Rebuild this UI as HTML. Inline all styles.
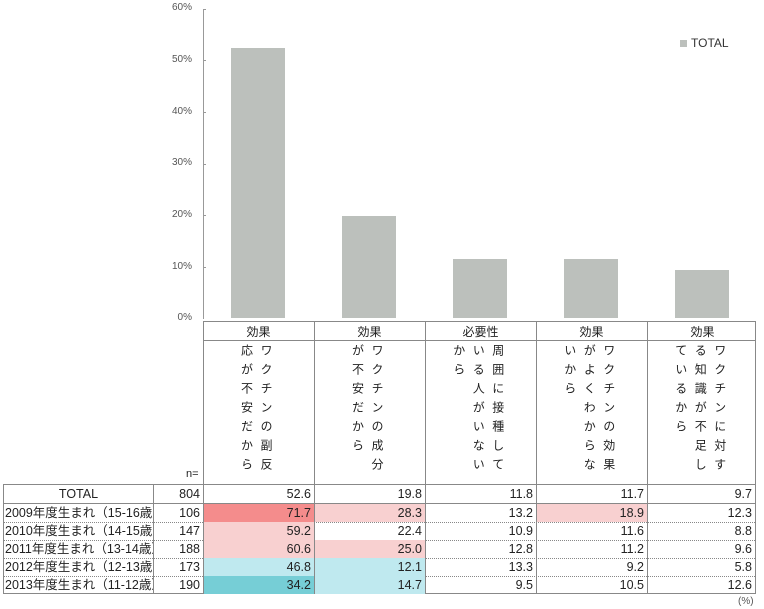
<!DOCTYPE html>
<html><head><meta charset="utf-8"><style>
body{margin:0;width:764px;height:609px;background:#fff;position:relative;overflow:hidden;font-family:"Liberation Sans","Noto Sans CJK JP",sans-serif;color:#222}
.a{position:absolute}
.yl{position:absolute;left:150px;width:42px;text-align:right;font-size:10px;color:#555}
.bar{position:absolute;background:#bcc0bc;width:54px}
.cell{position:absolute;box-sizing:border-box;font-size:12.5px;text-align:right;padding-right:3px;line-height:18px;height:18px}
.vt{position:absolute;top:344px;width:111px;text-align:center;font-size:12px}
.vt span{display:inline-block;writing-mode:vertical-rl;line-height:19.5px;letter-spacing:7px;text-align:left;vertical-align:top}
</style></head><body>
<div class="yl" style="top:2px">60%</div>
<div class="yl" style="top:54px">50%</div>
<div class="yl" style="top:106px">40%</div>
<div class="yl" style="top:157px">30%</div>
<div class="yl" style="top:209px">20%</div>
<div class="yl" style="top:261px">10%</div>
<div class="yl" style="top:312px">0%</div>
<div class="a" style="left:203px;top:9px;width:1px;height:310px;background:#999"></div>
<div class="a" style="left:203px;top:9px;width:3px;height:1px;background:#999"></div>
<div class="a" style="left:203px;top:60px;width:3px;height:1px;background:#999"></div>
<div class="a" style="left:203px;top:112px;width:3px;height:1px;background:#999"></div>
<div class="a" style="left:203px;top:164px;width:3px;height:1px;background:#999"></div>
<div class="a" style="left:203px;top:215px;width:3px;height:1px;background:#999"></div>
<div class="a" style="left:203px;top:267px;width:3px;height:1px;background:#999"></div>
<div class="bar" style="left:231px;top:48px;height:270px"></div>
<div class="bar" style="left:342px;top:216px;height:102px"></div>
<div class="bar" style="left:453px;top:259px;height:59px"></div>
<div class="bar" style="left:564px;top:259px;height:59px"></div>
<div class="bar" style="left:675px;top:270px;height:48px"></div>
<div class="a" style="left:680px;top:40px;width:7px;height:7px;background:#bcc0bc"></div>
<div class="a" style="left:691px;top:36px;font-size:12px;color:#333">TOTAL</div>

<!-- header area -->
<div class="a" style="left:203px;top:321px;width:553px;height:163px;border:1px solid #888;border-bottom:none;box-sizing:border-box"></div>
<div class="a" style="left:203px;top:340px;width:553px;height:1px;background:#888"></div>
<div class="a" style="left:314px;top:321px;width:1px;height:273px;background:#888"></div>
<div class="a" style="left:425px;top:321px;width:1px;height:273px;background:#888"></div>
<div class="a" style="left:536px;top:321px;width:1px;height:273px;background:#888"></div>
<div class="a" style="left:647px;top:321px;width:1px;height:273px;background:#888"></div>
<div class="a" style="left:203px;top:323px;width:111px;text-align:center;font-size:12px">効果</div>
<div class="a" style="left:314px;top:323px;width:111px;text-align:center;font-size:12px">効果</div>
<div class="a" style="left:425px;top:323px;width:111px;text-align:center;font-size:12px">必要性</div>
<div class="a" style="left:536px;top:323px;width:111px;text-align:center;font-size:12px">効果</div>
<div class="a" style="left:647px;top:323px;width:111px;text-align:center;font-size:12px">効果</div>
<div class="vt" style="left:200px"><span>ワクチンの副反<br>応が不安だから</span></div>
<div class="vt" style="left:311px"><span>ワクチンの成分<br>が不安だから</span></div>
<div class="vt" style="left:422px"><span>周囲に接種して<br>いる人がいない<br>から</span></div>
<div class="vt" style="left:533px"><span>ワクチンの効果<br>がよくわからな<br>いから</span></div>
<div class="vt" style="left:644px"><span>ワクチンに対す<br>る知識が不足し<br>ているから</span></div>
<div class="a" style="left:186px;top:468px;font-size:11px">n=</div>

<!-- table -->
<div class="a" style="left:3px;top:484px;width:753px;height:110px;border:1px solid #888;box-sizing:border-box"></div>
<div class="a" style="left:153px;top:484px;width:1px;height:110px;background:#888"></div>
<div class="a" style="left:203px;top:484px;width:1px;height:110px;background:#888"></div>
<div class="a" style="left:3px;top:503px;width:753px;height:1px;background:#888"></div>

<div id="t"></div>
<div class="a" style="left:738px;top:596px;font-size:10px;color:#555">(%)</div>
<script>
var rows=[["TOTAL","804",["52.6","19.8","11.8","11.7","9.7"],[0,0,0,0,0]],
["2009年度生まれ（15-16歳）","106",["71.7","28.3","13.2","18.9","12.3"],[1,2,0,2,0]],
["2010年度生まれ（14-15歳）","147",["59.2","22.4","10.9","11.6","8.8"],[2,0,0,0,0]],
["2011年度生まれ（13-14歳）","188",["60.6","25.0","12.8","11.2","9.6"],[2,2,0,0,0]],
["2012年度生まれ（12-13歳）","173",["46.8","12.1","13.3","9.2","5.8"],[3,3,0,0,0]],
["2013年度生まれ（11-12歳）","190",["34.2","14.7","9.5","10.5","12.6"],[4,3,0,0,0]]];
var cols=["transparent","#f48c8c","#f8d0d0","#bfe9ef","#76ced6"];
var tops=[485,504,522,540,558,576];var h="";
var xs=[204,315,426,537,648];
rows.forEach(function(r,i){var y=tops[i];var hh=(i==0?18:18);
 if(i==0)h+='<div class="cell" style="left:4px;top:'+y+'px;width:149px;text-align:center;padding:0">TOTAL</div>';
 else h+='<div class="cell" style="left:5px;top:'+y+'px;width:148px;text-align:left;padding:0;overflow:hidden;white-space:nowrap">'+r[0]+'</div>';
 h+='<div class="cell" style="left:154px;top:'+y+'px;width:49px">'+r[1]+'</div>';
 r[2].forEach(function(v,j){var w=(j==4?108:111);h+='<div class="cell" style="left:'+xs[j]+'px;top:'+y+'px;width:'+(w-1)+'px;background:'+cols[r[3][j]]+'">'+v+'</div>';});
 if(i>=1&&i<5)h+='<div class="a" style="left:4px;top:'+(y+18)+'px;width:751px;border-top:1px dotted #888"></div>';
});
document.getElementById("t").innerHTML=h;
</script>
</body></html>
